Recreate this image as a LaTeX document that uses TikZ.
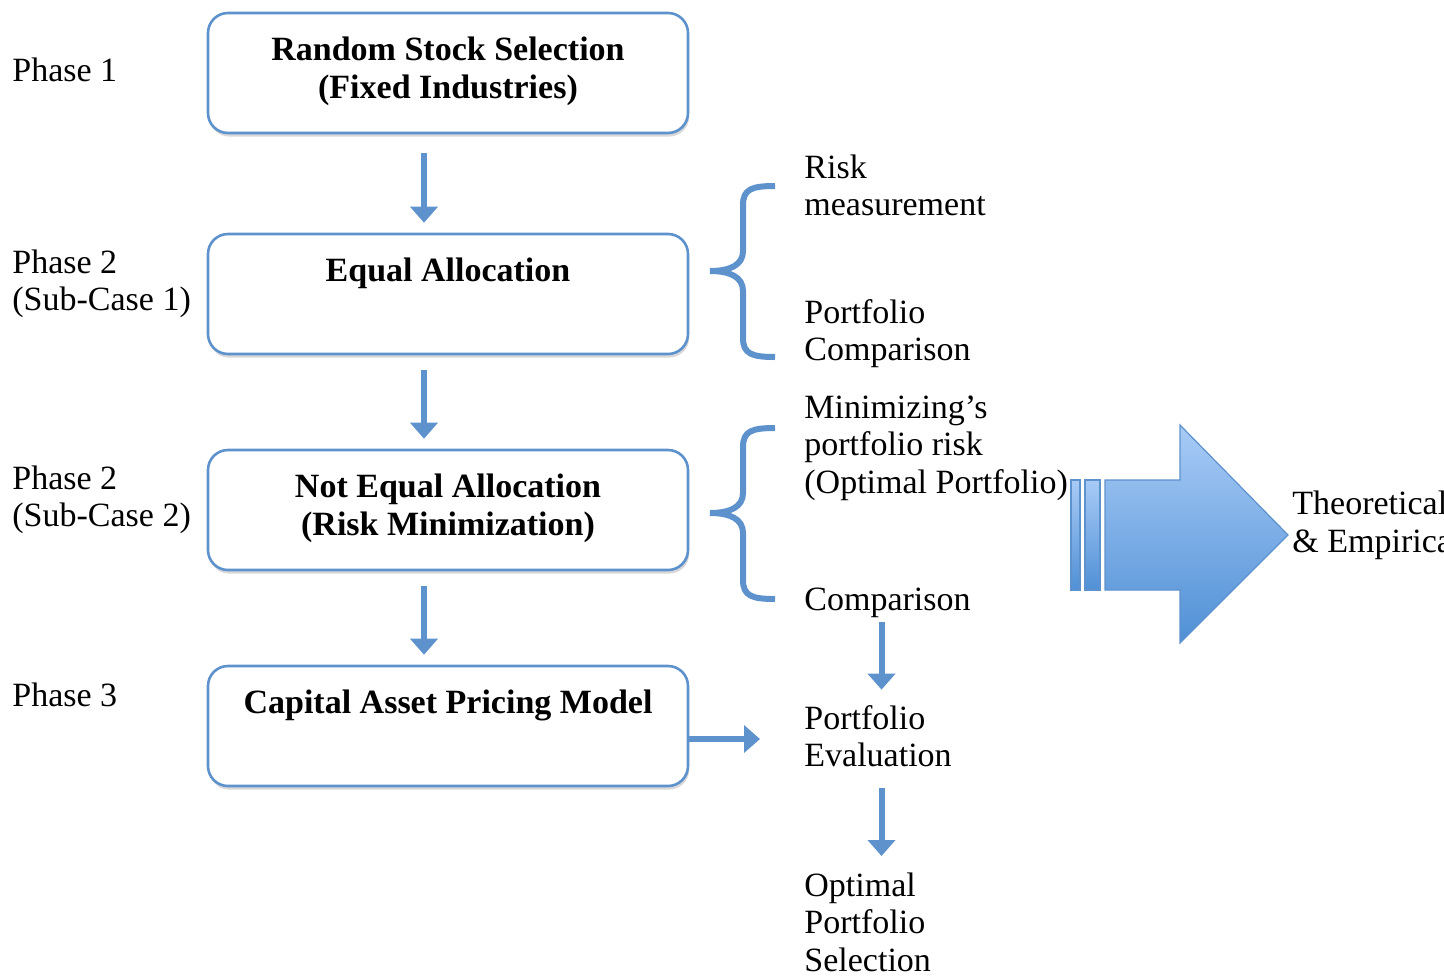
\documentclass[tikz,border=0pt]{standalone}
\usepackage{fontspec}
\setmainfont{Liberation Serif}
\usepackage{tikz}
\usetikzlibrary{arrows.meta, positioning, shadows}
\definecolor{flowblue}{RGB}{94,146,204}
\definecolor{arrtop}{RGB}{168,203,246}
\definecolor{arrbot}{RGB}{80,144,214}

\begin{document}
\begin{tikzpicture}[x=0.5pt, y=-0.5pt,
        font=\fontsize{17}{18.75}\selectfont,
        stage/.style={draw=flowblue, line width=1.3pt, rounded corners=10pt, fill=white, minimum width=240pt, minimum height=60pt,
          drop shadow={opacity=0.3, shadow xshift=0.6pt, shadow yshift=-1.8pt}},
        stagetext/.style={font=\fontsize{17}{18.75}\selectfont\bfseries, align=center, inner sep=0pt, anchor=base},
        lbl/.style={align=left, inner sep=0pt, anchor=base west},
        flow/.style={draw=flowblue, line width=3pt, -{Triangle[width=13.5pt, length=8pt]}},
        curly/.style={draw=flowblue, line width=3pt},
      ]
        \useasboundingbox (0,0) rectangle (1444,975);
        \clip (0,0) rectangle (1444,975);

        % Phase labels (anchored at the baseline of the last line)
        \foreach \i/\y/\txt in {1/81/{Phase 1}, 2/310.5/{Phase 2\\(Sub-Case 1)}, 3/526.5/{Phase 2\\(Sub-Case 2)}, 4/706/{Phase 3}} {
          \node[lbl] (phase\i) at (12,\y) {\txt};
        }

        % Stages
        \node[stage] (select) at (448,73) {};
        \node[stage] (equal) at (448,294) {};
        \node[stage] (notequal) at (448,510) {};
        \node[stage] (capm) at (448,726) {};
        \node[stagetext] (selecttxt) at ([yshift=-43.25pt]select.north) {Random Stock Selection\\(Fixed Industries)};
        \node[stagetext] (equaltxt) at ([yshift=-24.5pt]equal.north) {Equal Allocation};
        \node[stagetext] (notequaltxt) at ([yshift=-43.25pt]notequal.north) {Not Equal Allocation\\(Risk Minimization)};
        \node[stagetext] (capmtxt) at ([yshift=-24.5pt]capm.north) {Capital Asset Pricing Model};

        % Arrows between stages
        \draw[flow, shorten <=9.5pt, shorten >=5pt] ([xshift=-12pt]select.south) -- ([xshift=-12pt]equal.north);
        \draw[flow, shorten <=7.5pt, shorten >=5pt] ([xshift=-12pt]equal.south) -- ([xshift=-12pt]notequal.north);
        \draw[flow, shorten <=7.5pt, shorten >=5pt] ([xshift=-12pt]notequal.south) -- ([xshift=-12pt]capm.north);

        % Right side texts
        \node[lbl] (riskm) at (804,215.5) {Risk\\measurement};
        \node[lbl] (pcomp) at (804,360.5) {Portfolio\\Comparison};
        \node[lbl] (minrisk) at (804,493) {Minimizing’s\\portfolio risk\\(Optimal Portfolio)};
        \node[lbl] (cmp) at (804,610) {Comparison};
        \node[lbl] (evalpf) at (804,766.5) {Portfolio\\Evaluation};
        \node[lbl] (optsel) at (804,971) {Optimal\\Portfolio\\Selection};
        \node[lbl] (theory) at (1292,552) {Theoretical\\\& Empirical};

        % Braces
        \foreach \y in {271,513} {
          \draw[curly] (775,\y-85) .. controls (752,\y-85) and (743,\y-82) .. (743,\y-66) -- (743,\y-20)
            .. controls (743,\y-6) and (730,\y) .. (710,\y) .. controls (730,\y) and (743,\y+6) .. (743,\y+20)
            -- (743,\y+67) .. controls (743,\y+83) and (752,\y+86) .. (775,\y+86);
        }

        % Evaluation arrows
        \draw[flow, shorten <=2pt, shorten >=7.5pt] ([xshift=-3pt]cmp.south) -- ([xshift=-3pt]cmp.south |- evalpf.north);
        \draw[flow, shorten <=10.5pt, shorten >=8pt] ([xshift=-3pt]cmp.south |- evalpf.south) -- ([xshift=-3pt]cmp.south |- optsel.north);
        \draw[flow, shorten >=22pt] ([yshift=-6.5pt]capm.east) -- ([yshift=-6.5pt]capm.east -| evalpf.west);

        % Big block arrow
        \shade[top color=arrtop, bottom color=arrbot, draw=flowblue, line width=0.6pt]
          (1071,480) rectangle (1080,590);
        \shade[top color=arrtop, bottom color=arrbot, draw=flowblue, line width=0.6pt]
          (1085,480) rectangle (1100,590);
        \shade[top color=arrtop, bottom color=arrbot, draw=flowblue, line width=0.6pt]
          (1105,480) -- (1180,480) -- (1180,425) -- (1288,535) -- (1180,643) -- (1180,590) -- (1105,590) -- cycle;
      \end{tikzpicture}
\end{document}
